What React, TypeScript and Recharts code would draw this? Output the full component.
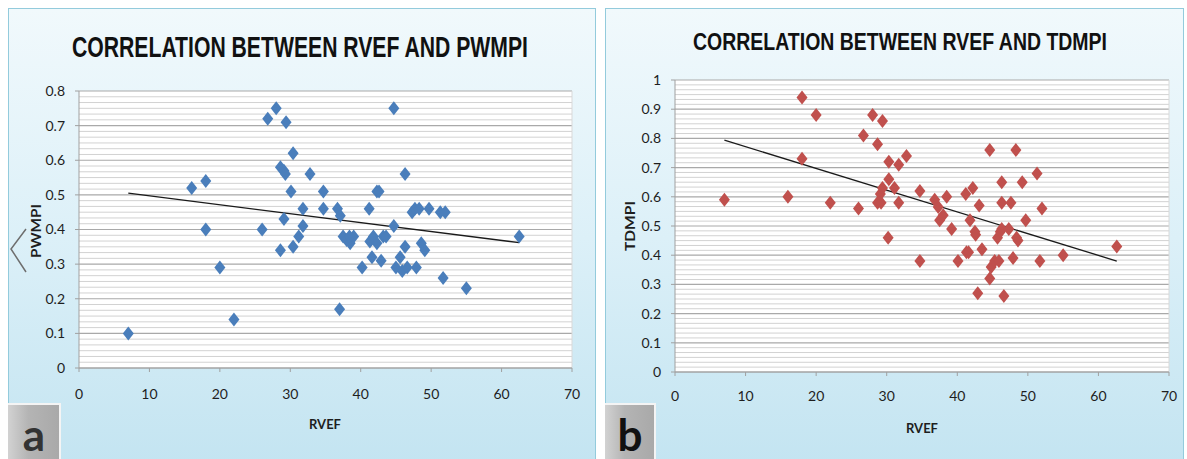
import React from 'react';
import { ScatterChart, Scatter, XAxis, YAxis, CartesianGrid, ReferenceLine } from 'recharts';

// Panel a: RVEF vs PWMPI
const rvefA = [7, 16, 18, 18, 20, 22, 26, 26.8, 28, 29.4, 28.6, 30.4, 28.6, 29.1, 29.3, 30.1, 32.8, 29.1, 30.4, 31.2, 31.8, 31.8, 34.7, 34.7, 36.7, 37.1, 37, 37.5, 38, 38.5, 39, 38.4, 40.2, 41.2, 42.3, 42.6, 41.3, 41.8, 42.3, 41.6, 42.9, 43.2, 43.6, 44.7, 44.7, 45, 45.6, 45.9, 46.3, 46.6, 46.3, 47.3, 47.7, 48.3, 49.7, 47.9, 48.6, 49.1, 51.3, 52, 51.7, 55, 62.5];
const pwmpi = [0.10, 0.52, 0.54, 0.40, 0.29, 0.14, 0.40, 0.72, 0.75, 0.71, 0.34, 0.62, 0.58, 0.57, 0.56, 0.51, 0.56, 0.43, 0.35, 0.38, 0.41, 0.46, 0.51, 0.46, 0.46, 0.44, 0.17, 0.38, 0.37, 0.36, 0.38, 0.38, 0.29, 0.46, 0.51, 0.51, 0.365, 0.38, 0.36, 0.32, 0.31, 0.38, 0.38, 0.75, 0.41, 0.29, 0.32, 0.28, 0.35, 0.29, 0.56, 0.45, 0.46, 0.46, 0.46, 0.29, 0.36, 0.34, 0.45, 0.45, 0.26, 0.23, 0.38];
const trendAX = [7, 62.5];
const trendAY = [0.505, 0.362];

// Panel b: RVEF vs TDMPI
const rvefB = [7, 16, 18, 18, 20, 22, 26, 26.7, 28, 28.7, 29.4, 28.7, 29.2, 29.1, 29.4, 30.2, 30.3, 30.3, 31.1, 31.7, 31.7, 32.8, 34.7, 34.7, 36.8, 37.3, 37.5, 38, 38.5, 39.2, 40.1, 41.2, 42.2, 41.3, 41.6, 41.8, 42.5, 42.6, 42.9, 43.1, 43.5, 44.6, 44.6, 44.8, 45.3, 45.9, 45.7, 46.1, 46.3, 47.3, 46.3, 46.3, 46.6, 47.6, 47.9, 48.3, 48.4, 48.6, 49.2, 49.7, 51.3, 51.7, 52, 55, 62.6];
const tdmpi = [0.59, 0.60, 0.94, 0.73, 0.88, 0.58, 0.56, 0.81, 0.88, 0.78, 0.86, 0.58, 0.58, 0.61, 0.63, 0.46, 0.72, 0.66, 0.63, 0.71, 0.58, 0.74, 0.62, 0.38, 0.59, 0.565, 0.52, 0.537, 0.60, 0.49, 0.38, 0.61, 0.63, 0.41, 0.41, 0.52, 0.48, 0.47, 0.27, 0.57, 0.42, 0.76, 0.32, 0.36, 0.38, 0.38, 0.46, 0.48, 0.49, 0.49, 0.65, 0.58, 0.26, 0.58, 0.39, 0.76, 0.46, 0.45, 0.65, 0.52, 0.68, 0.38, 0.56, 0.40, 0.43];
const trendBX = [7, 62.6];
const trendBY = [0.794, 0.38];

const xTicks = [0, 10, 20, 30, 40, 50, 60, 70];
const yTicksA = [0, 0.1, 0.2, 0.3, 0.4, 0.5, 0.6, 0.7, 0.8];
const yTicksB = [0, 0.1, 0.2, 0.3, 0.4, 0.5, 0.6, 0.7, 0.8, 0.9, 1];

// minor gridline values: 5 minor lines between each 0.1 major line
const minorValues = (max: number) => {
  const out: number[] = [];
  const n = Math.round(max * 60);
  for (let i = 1; i < n; i++) if (i % 6 !== 0) out.push(i / 60);
  return out;
};

const FONT = 'Lato, "Liberation Sans", sans-serif';

const makeDiamond = (color: string) => (props: any) => {
  const { cx, cy } = props;
  if (cx == null || cy == null) return <g />;
  return (
    <path
      d={`M${cx},${cy - 7} L${cx + 5.5},${cy} L${cx},${cy + 7} L${cx - 5.5},${cy} Z`}
      fill={color}
    />
  );
};

type PanelProps = {
  left: number;
  width: number;
  xs: number[];
  ys: number[];
  tx: number[];
  ty: number[];
  yTicks: number[];
  yMax: number;
  color: string;
  margin: { top: number; right: number; bottom: number; left: number };
  yWidth: number;
  xTickMargin: number;
};

const Panel = (p: PanelProps) => {
  const data = p.xs.map((x, i) => ({ x, y: p.ys[i] }));
  const tickStyle = { fill: '#1e1e1e', fontSize: 14, fontFamily: FONT };
  return (
    <div style={{ position: 'absolute', left: p.left, top: 0 }}>
      <ScatterChart width={p.width} height={459} margin={p.margin}>
        <CartesianGrid vertical={false} stroke="#a9a9a9" strokeWidth={1.2} fill="#ffffff" />
        {minorValues(p.yMax).map((v) => (
          <ReferenceLine key={v} y={v} stroke="#d2d2d2" strokeWidth={1} />
        ))}
        <ReferenceLine x={70} stroke="#d9d9d9" strokeWidth={1} />
        <XAxis
          type="number"
          dataKey="x"
          domain={[0, 70]}
          ticks={xTicks}
          interval={0}
          tickSize={4}
          tickMargin={p.xTickMargin}
          height={30}
          axisLine={{ stroke: '#a0a0a0' }}
          tickLine={{ stroke: '#a0a0a0' }}
          tick={tickStyle}
        />
        <YAxis
          type="number"
          dataKey="y"
          domain={[0, p.yMax]}
          ticks={p.yTicks}
          interval={0}
          tickSize={4}
          tickMargin={10}
          width={p.yWidth}
          axisLine={{ stroke: '#a0a0a0' }}
          tickLine={{ stroke: '#a0a0a0' }}
          tick={tickStyle}
        />
        <Scatter
          data={data}
          fill={p.color}
          shape={makeDiamond(p.color)}
          isAnimationActive={false}
        />
        <ReferenceLine
          segment={[{ x: p.tx[0], y: p.ty[0] }, { x: p.tx[1], y: p.ty[1] }]}
          stroke="#1a1a1a"
          strokeWidth={1.3}
        />
      </ScatterChart>
    </div>
  );
};

const panelBg: React.CSSProperties = {
  position: 'absolute',
  top: 8,
  height: 460,
  border: '1px solid #93cbdc',
  background: 'linear-gradient(to bottom, #f1f9fc 0%, #dcf0f8 50%, #c3e4f1 100%)',
  boxSizing: 'border-box',
};

const labelBox: React.CSSProperties = {
  position: 'absolute',
  top: 403,
  height: 56,
  background: 'linear-gradient(to right, #d2d2d2 0%, #b4b4b4 40%, #a9a9a9 100%)',
  borderTop: '2px solid #f4f4f4',
  borderRight: '2px solid #f4f4f4',
  boxSizing: 'border-box',
};

const TITLE_FONT = '"Liberation Sans Narrow", "Liberation Sans", sans-serif';

export default function App() {
  return (
    <div style={{ position: 'fixed', left: 0, top: 0, width: 1187, height: 459, background: '#ffffff', overflow: 'hidden' }}>
      <div style={{ ...panelBg, left: 8, width: 588 }} />
      <div style={{ ...panelBg, left: 605, width: 579 }} />

      <Panel
        left={0}
        width={600}
        xs={rvefA}
        ys={pwmpi}
        tx={trendAX}
        ty={trendAY}
        yTicks={yTicksA}
        yMax={0.8}
        color="#4a7ebb"
        margin={{ top: 91, right: 28, bottom: 61, left: 20 }}
        yWidth={59}
        xTickMargin={17}
      />
      <Panel
        left={600}
        width={587}
        xs={rvefB}
        ys={tdmpi}
        tx={trendBX}
        ty={trendBY}
        yTicks={yTicksB}
        yMax={1}
        color="#c0504d"
        margin={{ top: 80, right: 18, bottom: 57, left: 20 }}
        yWidth={55}
        xTickMargin={15}
      />

      <div style={{ ...labelBox, left: 8, width: 53 }} />
      <div style={{ ...labelBox, left: 605, width: 51 }} />

      <svg width={1187} height={459} style={{ position: 'absolute', left: 0, top: 0, pointerEvents: 'none' }}>
        <text x={300} y={57} textAnchor="middle" fontFamily={TITLE_FONT} fontWeight="bold" fontSize={29} fill="#111" textLength={456} lengthAdjust="spacingAndGlyphs">
          CORRELATION BETWEEN RVEF AND PWMPI
        </text>
        <text x={900} y={50} textAnchor="middle" fontFamily={TITLE_FONT} fontWeight="bold" fontSize={23} fill="#111" textLength={414} lengthAdjust="spacingAndGlyphs">
          CORRELATION BETWEEN RVEF AND TDMPI
        </text>

        <text x={325} y={429} textAnchor="middle" fontFamily={FONT} fontWeight="bold" fontSize={13} fill="#1e1e1e">RVEF</text>
        <text x={922} y={433} textAnchor="middle" fontFamily={FONT} fontWeight="bold" fontSize={13} fill="#1e1e1e">RVEF</text>

        <text x={35} y={231} transform="rotate(-90 35 231)" textAnchor="middle" dominantBaseline="central" fontFamily={FONT} fontWeight="bold" fontSize={14} fill="#1e1e1e" textLength={54} lengthAdjust="spacingAndGlyphs">PWMPI</text>
        <text x={629} y={226} transform="rotate(-90 629 226)" textAnchor="middle" dominantBaseline="central" fontFamily={FONT} fontWeight="bold" fontSize={14} fill="#1e1e1e" textLength={50} lengthAdjust="spacingAndGlyphs">TDMPI</text>

        <polyline points="26,229 11,249 26,272" fill="none" stroke="#6e6e6e" strokeWidth={1.5} />

        <text x={34} y={451} textAnchor="middle" fontFamily={FONT} fontWeight="bold" fontSize={44} fill="#333333">a</text>
        <text x={630} y={451} textAnchor="middle" fontFamily={FONT} fontWeight="bold" fontSize={44} fill="#111111">b</text>
      </svg>
    </div>
  );
}
